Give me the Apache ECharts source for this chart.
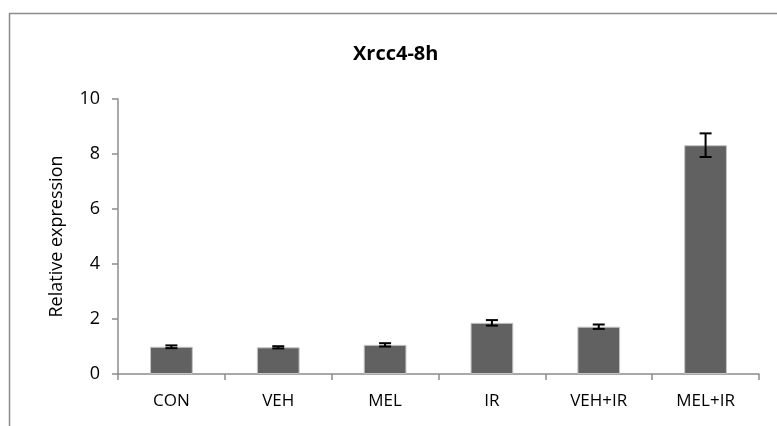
<!DOCTYPE html>
<html><head><meta charset="utf-8">
<script src="https://cdn.jsdelivr.net/npm/echarts@6/dist/echarts.min.js"></script>
<style>html,body{margin:0;padding:0;background:#fff}#c{width:777px;height:426px}</style>
</head><body><div id="c"></div>
<script>
const categories = ['CON','VEH','MEL','IR','VEH+IR','MEL+IR'];
const values = [0.99, 0.97, 1.06, 1.86, 1.72, 8.32];
const errors = [0.05, 0.04, 0.06, 0.10, 0.08, 0.43];
const yTicks = [0, 2, 4, 6, 8, 10];

const font = '"Open Sans", "Liberation Sans", sans-serif';
const chart = echarts.init(document.getElementById('c'));
chart.setOption({
  animation: false,
  backgroundColor: '#fff',
  title: {
    text: 'Xrcc4-8h', left: 348, top: 39,
    textStyle: { fontFamily: font, fontSize: 20, fontWeight: 'bold', color: '#000' }
  },
  graphic: [
    { type: 'polyline', shape: { points: [[9.5, 426], [9.5, 13.5], [777, 13.5]] },
      style: { stroke: '#8c8c8c', lineWidth: 1.5, fill: null } }
  ],
  grid: { left: 118, right: 18, top: 99, bottom: 52 },
  xAxis: {
    type: 'category', data: categories,
    axisLine: { lineStyle: { color: '#8c8c8c', width: 1.5 } },
    axisTick: { show: true, length: 6, alignWithLabel: false, lineStyle: { color: '#8c8c8c', width: 1.5 } },
    axisLabel: { fontFamily: font, fontSize: 17, color: '#000', margin: 19 }
  },
  yAxis: {
    type: 'value', min: yTicks[0], max: yTicks[yTicks.length - 1], interval: 2,
    name: 'Relative expression', nameLocation: 'middle', nameGap: 52, nameRotate: 90,
    nameTextStyle: { fontFamily: font, fontSize: 18, color: '#000' },
    axisLine: { show: true, lineStyle: { color: '#8c8c8c', width: 1.5 } },
    axisTick: { show: true, length: 6, lineStyle: { color: '#8c8c8c', width: 1.5 } },
    axisLabel: { fontFamily: font, fontSize: 18, color: '#000', margin: 18 },
    splitLine: { show: false }
  },
  series: [
    {
      type: 'bar', data: values, barCategoryGap: '60%',
      itemStyle: { color: '#616161', borderColor: '#c4c4c4', borderWidth: 1 }
    },
    {
      type: 'custom', z: 10,
      data: values.map((v, i) => [i, v - errors[i], v + errors[i]]),
      renderItem: function (params, api) {
        const lo = api.coord([api.value(0), api.value(1)]);
        const hi = api.coord([api.value(0), api.value(2)]);
        const hw = 6;
        const st = { stroke: '#000', lineWidth: 2 };
        return { type: 'group', children: [
          { type: 'line', shape: { x1: lo[0], y1: lo[1], x2: hi[0], y2: hi[1] }, style: st },
          { type: 'line', shape: { x1: lo[0] - hw, y1: lo[1], x2: lo[0] + hw, y2: lo[1] }, style: st },
          { type: 'line', shape: { x1: hi[0] - hw, y1: hi[1], x2: hi[0] + hw, y2: hi[1] }, style: st }
        ]};
      }
    }
  ]
});
</script></body></html>
